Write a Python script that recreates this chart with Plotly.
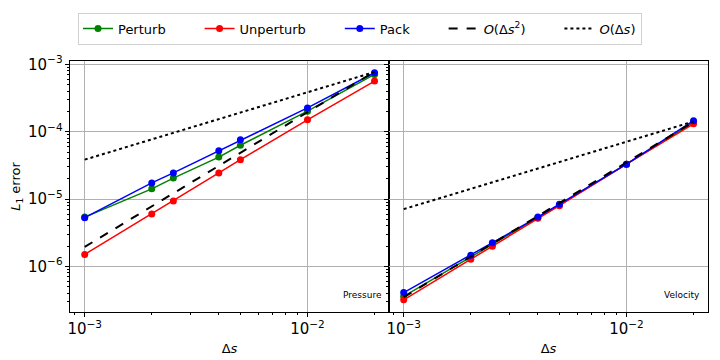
import plotly.graph_objects as go
from plotly.subplots import make_subplots

ds = [0.001, 0.002, 0.0025, 0.004, 0.005, 0.01, 0.02]

# pressure errors
p_perturb = [5.4e-6, 1.42e-5, 2.05e-5, 4.2e-5, 6.3e-5, 2.02e-4, 7.1e-4]
p_unperturb = [1.51e-6, 6.0e-6, 9.4e-6, 2.45e-5, 3.84e-5, 1.5e-4, 5.65e-4]
p_pack = [5.3e-6, 1.74e-5, 2.45e-5, 5.2e-5, 7.6e-5, 2.26e-4, 7.5e-4]

# velocity errors
v_perturb = [3.6e-7, 1.38e-6, 2.1e-6, 5.3e-6, 8.2e-6, 3.3e-5, 1.38e-4]
v_unperturb = [3.2e-7, 1.28e-6, 2.0e-6, 5.2e-6, 8.0e-6, 3.3e-5, 1.31e-4]
v_pack = [4.1e-7, 1.47e-6, 2.25e-6, 5.4e-6, 8.4e-6, 3.3e-5, 1.46e-4]

# reference slopes (end points)
ref_x = [0.001, 0.02]
p_order2 = [1.95e-6, 7.8e-4]
p_order1 = [3.85e-5, 7.7e-4]
v_order2 = [3.5e-7, 1.4e-4]
v_order1 = [7.1e-6, 1.42e-4]

FONT = "DejaVu Sans"
PAD = "&nbsp;" * 7  # extra room between legend entries

fig = make_subplots(rows=1, cols=2, shared_yaxes=True, horizontal_spacing=0)

panels = [
    (1, p_perturb, p_unperturb, p_pack, p_order2, p_order1),
    (2, v_perturb, v_unperturb, v_pack, v_order2, v_order1),
]
for col, pert, unpert, pack, o2, o1 in panels:
    show = col == 1
    for name, ys, color in [("Perturb", pert, "#008000"),
                            ("Unperturb", unpert, "#ff0000"),
                            ("Pack", pack, "#0000ff")]:
        fig.add_trace(go.Scatter(x=ds, y=ys, mode="lines+markers", name=name + PAD,
                                 line=dict(color=color, width=1.5),
                                 marker=dict(color=color, size=7),
                                 showlegend=show, legendgroup=name), row=1, col=col)
    fig.add_trace(go.Scatter(x=ref_x, y=o2, mode="lines",
                             name="<i>O</i>(Δ<i>s</i><sup>2</sup>)" + PAD,
                             line=dict(color="black", width=2, dash="dash"),
                             showlegend=show, legendgroup="o2"), row=1, col=col)
    fig.add_trace(go.Scatter(x=ref_x, y=o1, mode="lines",
                             name="<i>O</i>(Δ<i>s</i>)",
                             line=dict(color="black", width=2, dash="dot"),
                             showlegend=show, legendgroup="o1"), row=1, col=col)

axis_style = dict(type="log", showline=True, mirror=True, linecolor="black",
                  linewidth=1, ticks="outside", ticklen=4, tickcolor="black",
                  showgrid=True, gridcolor="#b0b0b0", gridwidth=0.8,
                  exponentformat="power", dtick=1, zeroline=False, automargin=False,
                  minor=dict(ticks="outside", ticklen=2, tickcolor="black", showgrid=False),
                  tickfont=dict(size=12, color="black", family=FONT))

for col in (1, 2):
    fig.update_xaxes(axis_style, range=[-3.066, -1.634], row=1, col=col,
                     title=dict(text="Δ<i>s</i>", font=dict(size=13, family=FONT, color="black"),
                                standoff=6))
fig.update_yaxes(axis_style, range=[-6.676, -2.95], row=1, col=1,
                 title=dict(text="<i>L</i><sub>1</sub> error",
                            font=dict(size=13, family=FONT, color="black"), standoff=4))
fig.update_yaxes(axis_style, range=[-6.676, -2.95], row=1, col=2, showticklabels=False)

fig.add_annotation(text="Pressure", x=0.492, y=0.04, xref="paper", yref="paper",
                   xanchor="right", yanchor="bottom", showarrow=False,
                   font=dict(size=9, family=FONT, color="black"))
fig.add_annotation(text="Velocity", x=0.99, y=0.04, xref="paper", yref="paper",
                   xanchor="right", yanchor="bottom", showarrow=False,
                   font=dict(size=9, family=FONT, color="black"))

fig.update_layout(
    width=720, height=360,
    margin=dict(l=70, r=12, t=61, b=48, autoexpand=False),
    plot_bgcolor="white", paper_bgcolor="white",
    font=dict(family=FONT, size=12, color="black"),
    legend=dict(orientation="h", xref="container", yref="container",
                x=0.5, xanchor="center", y=0.965, yanchor="top",
                bordercolor="#d0d0d0", borderwidth=1, font=dict(size=13),
                itemwidth=30),
)

fig.write_html("out.html", config={"displayModeBar": False},
               post_script="document.body.style.margin='0';")
